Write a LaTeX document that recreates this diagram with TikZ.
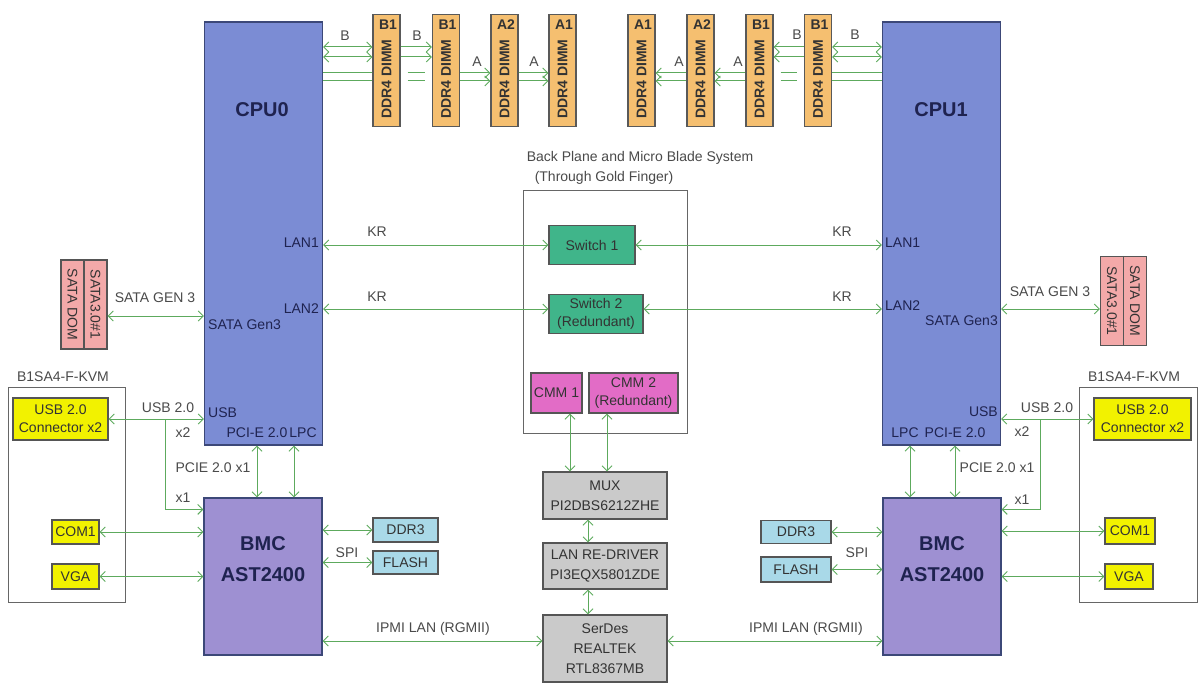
\documentclass[tikz,border=0pt]{standalone}
\usepackage{fontspec}
\setmainfont{Liberation Sans}
\usetikzlibrary{arrows.meta}

\definecolor{cpublue}{HTML}{7B8CD4}
\definecolor{cpuline}{HTML}{3C4878}
\definecolor{bmcpurple}{HTML}{9E90D2}
\definecolor{dimmorange}{HTML}{F5BF70}
\definecolor{swgreen}{HTML}{40B58A}
\definecolor{cmmpink}{HTML}{E26CC6}
\definecolor{chipgray}{HTML}{CACACA}
\definecolor{memblue}{HTML}{A9D9E8}
\definecolor{satapink}{HTML}{F3A9A9}
\definecolor{conyellow}{HTML}{F2F200}
\definecolor{wiregreen}{HTML}{5DAA5D}
\definecolor{boxline}{HTML}{555555}
\definecolor{txtgray}{HTML}{4A4A4A}
\definecolor{navy}{HTML}{1F2350}

\tikzset{
  box/.style={draw=boxline, line width=1.1pt, inner sep=0pt, text=black!80,
    font=\fontsize{14}{18}\selectfont, align=center},
  cpu/.style={box, draw=cpuline, fill=cpublue, minimum width=118, minimum height=423},
  bmc/.style={box, draw=cpuline, fill=bmcpurple, minimum width=118, minimum height=157},
  dimm/.style={box, draw=black!65, fill=dimmorange, minimum width=27, minimum height=112},
  sata/.style={box, fill=satapink, minimum width=46, minimum height=89},
  conn/.style={box, fill=conyellow},
  mem/.style={box, fill=memblue},
  chip/.style={box, fill=chipgray, minimum width=124, font=\fontsize{14}{20}\selectfont},
  sw/.style={box, fill=swgreen, minimum height=39},
  cmm/.style={box, fill=cmmpink, minimum height=40},
  frame/.style={draw=black!60, line width=0.9pt, inner sep=0pt},
  lbl/.style={inner sep=1pt, text=txtgray, font=\fontsize{14}{18}\selectfont},
  port/.style={inner sep=1pt, text=navy, font=\fontsize{14}{18}\selectfont},
  slot/.style={inner sep=0pt, text=black!80, font=\fontsize{14}{16}\selectfont\bfseries},
  bigtxt/.style={inner sep=0pt, text=navy, font=\fontsize{20}{31}\selectfont\bfseries, align=center},
  dimmtxt/.style={inner sep=0pt, text=black!80, font=\fontsize{14}{16}\selectfont\bfseries, rotate=90},
  satatxt/.style={inner sep=0pt, text=black!80, font=\fontsize{14}{16}\selectfont, rotate=-90},
  wire/.style={draw=wiregreen, line width=1pt, <->},
  wireto/.style={draw=wiregreen, line width=1pt, ->},
  wirefrom/.style={draw=wiregreen, line width=1pt, <-},
  plain/.style={draw=wiregreen, line width=1pt}
}

\begin{document}
\begin{tikzpicture}[x=1pt, y=-1pt, >={Straight Barb[length=5pt, width=10pt]}]
\useasboundingbox[fill=white] (0,0) rectangle (1201,687);

%processori
\node[cpu] (cpu0) at (263.5,233.5) {};
\node[cpu] (cpu1) at (941.5,233.5) {};
\node[bigtxt] (cpu0lbl) at (262,110) {CPU0};
\node[bigtxt] (cpu1lbl) at (941,110) {CPU1};
%porte della cpu0
\node[port, anchor=east] (lan10) at (320,243) {LAN1};
\node[port, anchor=east] (lan20) at (320,309) {LAN2};
\node[port, anchor=west] (sataport0) at (207,325) {SATA Gen3};
\node[port, anchor=west] (usbport0) at (207,413) {USB};
\node[port] (pcieport0) at (257,433) {PCI-E 2.0};
\node[port] (lpcport0) at (303,433) {LPC};
%porte della cpu1
\node[port, anchor=west] (lan11) at (884,243) {LAN1};
\node[port, anchor=west] (lan21) at (884,306) {LAN2};
\node[port, anchor=east] (sataport1) at (999,321) {SATA Gen3};
\node[port, anchor=east] (usbport1) at (999,412) {USB};
\node[port] (lpcport1) at (905,433) {LPC};
\node[port] (pcieport1) at (955,433) {PCI-E 2.0};

%dimm lato cpu0
\node[dimm] (dimm1) at (386.5,70.5) {}; \node[slot] (slot1) at (388,25) {B1}; \node[dimmtxt] (dtxt1) at (386.5,79) {DDR4 DIMM};
\node[dimm] (dimm2) at (446,70.5) {}; \node[slot] (slot2) at (447.5,25) {B1}; \node[dimmtxt] (dtxt2) at (446,79) {DDR4 DIMM};
\node[dimm] (dimm3) at (504.5,70.5) {}; \node[slot] (slot3) at (506,25) {A2}; \node[dimmtxt] (dtxt3) at (504.5,79) {DDR4 DIMM};
\node[dimm] (dimm4) at (562.5,70.5) {}; \node[slot] (slot4) at (564,25) {A1}; \node[dimmtxt] (dtxt4) at (562.5,79) {DDR4 DIMM};
%dimm lato cpu1
\node[dimm] (dimm5) at (641.5,70.5) {}; \node[slot] (slot5) at (643,25) {A1}; \node[dimmtxt] (dtxt5) at (641.5,79) {DDR4 DIMM};
\node[dimm] (dimm6) at (700.5,70.5) {}; \node[slot] (slot6) at (702,25) {A2}; \node[dimmtxt] (dtxt6) at (700.5,79) {DDR4 DIMM};
\node[dimm] (dimm7) at (759.5,70.5) {}; \node[slot] (slot7) at (761,25) {B1}; \node[dimmtxt] (dtxt7) at (759.5,79) {DDR4 DIMM};
\node[dimm] (dimm8) at (818,70.5) {}; \node[slot] (slot8) at (819.5,25) {B1}; \node[dimmtxt] (dtxt8) at (818,79) {DDR4 DIMM};

%livelli dei canali di memoria
\coordinate (yb1) at (0,47);
\coordinate (yb2) at (0,57);
\coordinate (ya1) at (0,73);
\coordinate (ya2) at (0,81);
%canale B cpu0
\draw[wire] (cpu0.east |- yb1) -- (dimm1.west |- yb1); \draw[wire] (cpu0.east |- yb2) -- (dimm1.west |- yb2);
\draw[wireto] (dimm1.east |- yb1) -- (dimm2.west |- yb1); \draw[wireto] (dimm1.east |- yb2) -- (dimm2.west |- yb2);
%canale A cpu0, passa sotto i B1
\draw[plain] (cpu0.east |- ya1) -- (dimm1.west |- ya1); \draw[plain] (cpu0.east |- ya2) -- (dimm1.west |- ya2);
\draw[plain, shorten <=7pt, shorten >=7pt] (dimm1.east |- ya1) -- (dimm2.west |- ya1); \draw[plain, shorten <=7pt, shorten >=7pt] (dimm1.east |- ya2) -- (dimm2.west |- ya2);
\draw[wireto] (dimm2.east |- ya1) -- (dimm3.west |- ya1); \draw[wireto] (dimm2.east |- ya2) -- (dimm3.west |- ya2);
\draw[wireto] (dimm3.east |- ya1) -- (dimm4.west |- ya1); \draw[wireto] (dimm3.east |- ya2) -- (dimm4.west |- ya2);
%canale B cpu1
\draw[wire] (dimm8.east |- yb1) -- (cpu1.west |- yb1); \draw[wire] (dimm8.east |- yb2) -- (cpu1.west |- yb2);
\draw[wirefrom] (dimm7.east |- yb1) -- (dimm8.west |- yb1); \draw[wirefrom] (dimm7.east |- yb2) -- (dimm8.west |- yb2);
%canale A cpu1
\draw[plain] (dimm8.east |- ya1) -- (cpu1.west |- ya1); \draw[plain] (dimm8.east |- ya2) -- (cpu1.west |- ya2);
\draw[plain, shorten <=7pt, shorten >=7pt] (dimm7.east |- ya1) -- (dimm8.west |- ya1); \draw[plain, shorten <=7pt, shorten >=7pt] (dimm7.east |- ya2) -- (dimm8.west |- ya2);
\draw[wirefrom] (dimm6.east |- ya1) -- (dimm7.west |- ya1); \draw[wirefrom] (dimm6.east |- ya2) -- (dimm7.west |- ya2);
\draw[wirefrom] (dimm5.east |- ya1) -- (dimm6.west |- ya1); \draw[wirefrom] (dimm5.east |- ya2) -- (dimm6.west |- ya2);
%etichette canali
\node[lbl] (chb1) at (345,36) {B};
\node[lbl] (chb2) at (417,36) {B};
\node[lbl] (cha1) at (477,62) {A};
\node[lbl] (cha2) at (534,62) {A};
\node[lbl] (cha3) at (679,62) {A};
\node[lbl] (cha4) at (738,62) {A};
\node[lbl] (chb3) at (797,35) {B};
\node[lbl] (chb4) at (855,35) {B};

%backplane
\node[frame, minimum width=164, minimum height=243] (bp) at (605,311.5) {};
\node[lbl] (bptitle) at (640,158) {Back Plane and Micro Blade System};
\node[lbl] (bpsub) at (604,178) {(Through Gold Finger)};
\node[sw, minimum width=86] (sw1) at (592,245) {Switch 1};
\node[sw, minimum width=94, font=\fontsize{14}{18}\selectfont] (sw2) at (596,314) {Switch 2\\(Redundant)};
\node[cmm, minimum width=51] (cmm1) at (556.5,393) {CMM 1};
\node[cmm, minimum width=89] (cmm2) at (633.5,393) {CMM 2\\(Redundant)};
%catena lan di gestione
\node[chip, minimum height=47] (mux) at (605,495.5) {MUX\\PI2DBS6212ZHE};
\node[chip, minimum height=46] (redrv) at (605,566) {LAN RE-DRIVER\\PI3EQX5801ZDE};
\node[chip, minimum height=67] (serdes) at (605,648.5) {SerDes\\REALTEK\\RTL8367MB};

%link KR
\draw[wire] (cpu0.east |- sw1.west) -- (sw1.west);
\draw[wire] (sw1.east) -- (cpu1.west |- sw1.east);
\draw[wire] (cpu0.east |- lan20) -- ([yshift=5]sw2.west);
\draw[wire] ([yshift=5]sw2.east) -- (cpu1.west |- lan20);
\node[lbl] (kr1) at (377,232) {KR};
\node[lbl] (kr2) at (377,297) {KR};
\node[lbl] (kr3) at (842,232) {KR};
\node[lbl] (kr4) at (842,297) {KR};

%cmm verso mux
\coordinate (c1x) at (570,0);
\coordinate (c2x) at (607,0);
\coordinate (midx) at (588,0);
\draw[wire] (c1x |- cmm1.south) -- (c1x |- mux.north);
\draw[wire] (c2x |- cmm2.south) -- (c2x |- mux.north);
\draw[wire] (midx |- mux.south) -- (midx |- redrv.north);
\draw[wire] (midx |- redrv.south) -- (midx |- serdes.north);

%sata dom
\node[sata] (dom0) at (84,304.5) {};
\draw[draw=boxline, line width=1.1pt] (dom0.north) -- (dom0.south);
\node[satatxt] (dom0a) at (72.5,304.5) {SATA DOM};
\node[satatxt] (dom0b) at (95.5,304.5) {SATA3.0\#1};
\node[sata] (dom1) at (1123.5,301) {};
\draw[draw=boxline, line width=1.1pt] (dom1.north) -- (dom1.south);
\node[satatxt] (dom1a) at (1112,301) {SATA3.0\#1};
\node[satatxt] (dom1b) at (1135,301) {SATA DOM};
\coordinate (sata0) at (0,316);
\coordinate (sata1) at (0,309);
\draw[wire] (dom0.east |- sata0) -- (cpu0.west |- sata0);
\draw[wire] (cpu1.east |- sata1) -- (dom1.west |- sata1);
\node[lbl] (satalbl0) at (155,298) {SATA GEN 3};
\node[lbl] (satalbl1) at (1050,292) {SATA GEN 3};

%bmc
\node[bmc] (bmc0) at (263,576.5) {};
\node[bmc] (bmc1) at (942,576.5) {};
\node[bigtxt] (bmc0lbl) at (263,559) {BMC\\AST2400};
\node[bigtxt] (bmc1lbl) at (942,559) {BMC\\AST2400};
\coordinate (pcie0x) at (257,0);
\coordinate (lpc0x) at (294,0);
\coordinate (lpc1x) at (910,0);
\coordinate (pcie1x) at (955,0);
\draw[wire] (pcie0x |- cpu0.south) -- (pcie0x |- bmc0.north);
\draw[wire] (lpc0x |- cpu0.south) -- (lpc0x |- bmc0.north);
\draw[wire] (lpc1x |- cpu1.south) -- (lpc1x |- bmc1.north);
\draw[wire] (pcie1x |- cpu1.south) -- (pcie1x |- bmc1.north);
\node[lbl] (pcielbl0) at (213,468) {PCIE 2.0 x1};
\node[lbl] (pcielbl1) at (997,468) {PCIE 2.0 x1};

%memorie del bmc
\node[mem, minimum width=65, minimum height=24] (ddr0) at (405.5,530) {DDR3};
\node[mem, minimum width=65, minimum height=23] (fl0) at (405.5,562.5) {FLASH};
\node[mem, minimum width=70, minimum height=23] (ddr1) at (796,532) {DDR3};
\node[mem, minimum width=70, minimum height=25] (fl1) at (796,569.5) {FLASH};
\draw[wire] (bmc0.east |- ddr0.west) -- (ddr0.west);
\draw[wire] (bmc0.east |- fl0.west) -- (fl0.west);
\draw[wire] (ddr1.east) -- (bmc1.west |- ddr1.east);
\draw[wire] (fl1.east) -- (bmc1.west |- fl1.east);
\node[lbl] (spi0) at (347,553) {SPI};
\node[lbl] (spi1) at (857,553) {SPI};

%ipmi lan
\coordinate (ipmi) at (0,641);
\draw[wire] (bmc0.east |- ipmi) -- (serdes.west |- ipmi);
\draw[wire] (serdes.east |- ipmi) -- (bmc1.west |- ipmi);
\node[lbl] (ipmilbl0) at (433,629) {IPMI LAN (RGMII)};
\node[lbl] (ipmilbl1) at (806,629) {IPMI LAN (RGMII)};

%scheda kvm sinistra
\node[frame, minimum width=117, minimum height=215] (kvm0) at (66.5,494.5) {};
\node[lbl] (kvm0lbl) at (63,377) {B1SA4-F-KVM};
\node[conn, minimum width=95, minimum height=42] (usb0) at (60.5,419) {USB 2.0\\Connector x2};
\node[conn, minimum width=47, minimum height=24] (com0) at (75.5,532) {COM1};
\node[conn, minimum width=47, minimum height=25] (vga0) at (75.5,576.5) {VGA};
\draw[wire] (usb0.east) -- (cpu0.west |- usb0.east);
\coordinate (br0) at (165,419);
\draw[wireto] (br0) |- ([yshift=-12]bmc0.north west);
\draw[wire] (com0.east) -- (bmc0.west |- com0.east);
\draw[wire] (vga0.east) -- (bmc0.west |- vga0.east);
\node[lbl] (usblbl0) at (168,408) {USB 2.0};
\node[lbl] (x20) at (183,433) {x2};
\node[lbl] (x10) at (183,498) {x1};

%scheda kvm destra
\node[frame, minimum width=118, minimum height=215] (kvm1) at (1138,494.5) {};
\node[lbl] (kvm1lbl) at (1134,377) {B1SA4-F-KVM};
\node[conn, minimum width=97, minimum height=42] (usb1) at (1142.5,419) {USB 2.0\\Connector x2};
\node[conn, minimum width=50, minimum height=26] (com1) at (1130,531) {COM1};
\node[conn, minimum width=48, minimum height=25] (vga1) at (1129,576.5) {VGA};
\draw[wire] (cpu1.east |- usb1.west) -- (usb1.west);
\coordinate (br1) at (1040,419);
\draw[wireto] (br1) |- ([yshift=-12]bmc1.north east);
\draw[wire] (bmc1.east |- com1.west) -- (com1.west);
\draw[wire] (bmc1.east |- vga1.west) -- (vga1.west);
\node[lbl] (usblbl1) at (1047,408) {USB 2.0};
\node[lbl] (x21) at (1022,432) {x2};
\node[lbl] (x11) at (1022,500) {x1};
\end{tikzpicture}
\end{document}
